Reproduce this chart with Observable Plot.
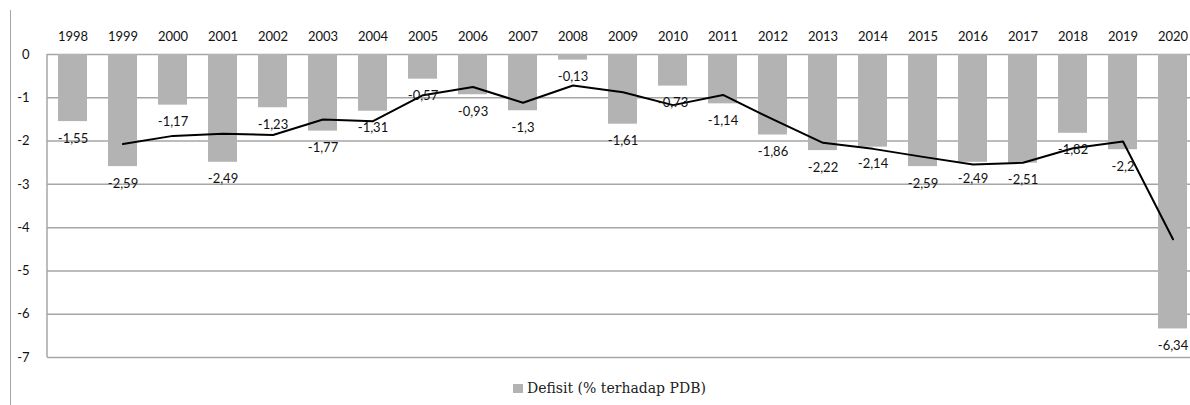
<!DOCTYPE html>
<html><head><meta charset="utf-8">
<script src="https://cdn.jsdelivr.net/npm/d3@7"></script>
<script src="https://cdn.jsdelivr.net/npm/@observablehq/plot@0.6"></script>
<style>
body{margin:0;background:#fff;}
#wrap{position:relative;width:1190px;height:405px;overflow:hidden;background:#fff;}
#chart{position:absolute;left:0;top:0;}
#edge{position:absolute;left:10px;top:10px;width:0;height:400px;border-left:1.5px solid #a6a6a6;z-index:2;}
#legend{position:absolute;top:380px;left:513px;font-family:"DejaVu Serif",serif;font-size:14px;color:#222;display:flex;align-items:center;white-space:nowrap;}
#legend span.sw{display:inline-block;width:10px;height:9px;background:#b3b3b3;margin-right:4px;}
</style>
</head><body>
<div id="wrap"><div id="chart"></div><div id="edge"></div>
<div id="legend"><span class="sw"></span><span id="legtext"></span></div></div>
<script>
const years = ["1998","1999","2000","2001","2002","2003","2004","2005","2006","2007","2008","2009","2010","2011","2012","2013","2014","2015","2016","2017","2018","2019","2020"];
const deficit = [-1.55,-2.59,-1.17,-2.49,-1.23,-1.77,-1.31,-0.57,-0.93,-1.3,-0.13,-1.61,-0.73,-1.14,-1.86,-2.22,-2.14,-2.59,-2.49,-2.51,-1.82,-2.2,-6.34];
const yTicks = [0,-1,-2,-3,-4,-5,-6,-7];
const seriesName = "Defisit (% terhadap PDB)";

document.getElementById("legtext").textContent = seriesName;
const data = years.map((y, i) => ({year: y, value: deficit[i]}));
const fmt = v => String(v).replace(".", ",");

const W = 1190, H = 370, ML = 47, MT = 54, MB = 13;

const leftEdge = (index, scales, values, dims) => {
  const l = document.createElementNS("http://www.w3.org/2000/svg", "line");
  l.setAttribute("x1", dims.marginLeft); l.setAttribute("x2", dims.marginLeft);
  l.setAttribute("y1", dims.marginTop); l.setAttribute("y2", dims.height - dims.marginBottom);
  l.setAttribute("stroke", "#a6a6a6"); l.setAttribute("stroke-width", 1.5);
  return l;
};

const chart = Plot.plot({
  width: W, height: H,
  marginLeft: ML, marginTop: MT, marginBottom: MB, marginRight: -8,
  style: {fontFamily: "Lato, sans-serif", fontSize: "13px", color: "#111", background: "transparent"},
  x: {domain: years, paddingInner: 0.42, paddingOuter: 0.21, label: null},
  y: {domain: [-7, 0], label: null},
  marks: [
    Plot.ruleY(yTicks, {stroke: "#a6a6a6", strokeWidth: 1.5, strokeOpacity: 1}),
    leftEdge,
    Plot.barY(data, {x: "year", y: "value", fill: "#b3b3b3"}),
    Plot.line(data, Plot.windowY({k: 2, anchor: "end", reduce: "mean", strict: true}, {x: "year", y: "value", stroke: "#000", strokeWidth: 2})),
    Plot.text(data, {x: "year", y: "value", text: d => fmt(d.value), dy: 17, fill: "#111", fontSize: 13}),
    Plot.axisX({anchor: "top", tickSize: 0, tickPadding: 14, fontSize: 13, label: null}),
    Plot.axisY({ticks: yTicks, tickSize: 0, tickPadding: 18, tickFormat: d => String(d), fontSize: 13, label: null})
  ]
});
document.getElementById("chart").appendChild(chart);
</script>
</body></html>
